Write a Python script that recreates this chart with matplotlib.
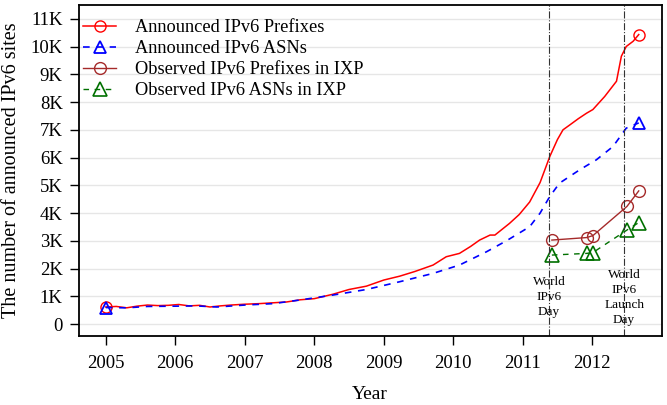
import matplotlib
matplotlib.use('Agg')
import matplotlib.pyplot as plt
from matplotlib.ticker import FuncFormatter

plt.rcParams['font.family'] = ['Liberation Serif', 'DejaVu Serif']
plt.rcParams['font.size'] = 13.5

# Announced IPv6 prefixes
pref_year = [2005.0, 2005.15, 2005.3, 2005.45, 2005.6, 2005.75, 2005.9, 2006.05, 2006.2,
             2006.35, 2006.5, 2006.65, 2006.8, 2007.0, 2007.2, 2007.4, 2007.6, 2007.8,
             2008.0, 2008.27, 2008.5, 2008.75, 2009.0, 2009.23, 2009.45, 2009.71, 2009.9,
             2010.09, 2010.25, 2010.38, 2010.53, 2010.6, 2010.81, 2010.95, 2011.1, 2011.25,
             2011.39, 2011.5, 2011.58, 2011.68, 2011.8, 2011.92, 2012.01, 2012.18, 2012.35,
             2012.42, 2012.49, 2012.59, 2012.67]
pref_vals = [620, 640, 590, 650, 690, 670, 680, 710, 660, 680, 620, 660, 690, 720, 740, 770,
             800, 880, 920, 1080, 1250, 1370, 1590, 1730, 1900, 2130, 2430, 2550, 2800, 3030,
             3210, 3210, 3630, 3950, 4400, 5100, 6040, 6650, 7000, 7180, 7400, 7600, 7730,
             8200, 8750, 9650, 10000, 10190, 10430]

# Announced IPv6 ASNs
asn_year = [2005.0, 2005.3, 2005.6, 2006.0, 2006.3, 2006.6, 2007.0, 2007.4, 2007.79, 2008.27,
            2008.75, 2009.23, 2009.71, 2010.09, 2010.48, 2010.77, 2011.1, 2011.25, 2011.39,
            2011.53, 2011.82, 2012.06, 2012.3, 2012.49, 2012.67]
asn_vals = [600, 590, 640, 650, 660, 620, 690, 740, 870, 1050, 1250, 1530, 1830, 2130, 2610,
            3010, 3510, 4000, 4600, 5080, 5560, 5920, 6400, 7060, 7250]

# Observed in IXP
obs_year = [2011.42, 2011.92, 2012.01, 2012.5, 2012.67]
obs_pref = [3030, 3120, 3190, 4240, 4800]
obs_asn = [2490, 2550, 2580, 3390, 3660]

events = [2011.38, 2012.46]
event_text = ['World\nIPv6\nDay', 'World\nIPv6\nLaunch\nDay']

fig, ax = plt.subplots(figsize=(6.67, 4.05), dpi=100)
fig.subplots_adjust(left=0.118, right=0.992, top=0.988, bottom=0.17)

last = len(pref_year) - 1
ax.plot(pref_year, pref_vals, color='red', lw=1.1, marker='o', mfc='none', ms=8,
        markevery=[0, last], label='Announced IPv6 Prefixes')
ax.plot(asn_year, asn_vals, color='blue', lw=1.2, ls=(0, (4, 4)), marker='^', mfc='none',
        ms=8.5, mew=1.3, markevery=[0, len(asn_year) - 1], label='Announced IPv6 ASNs')
ax.plot(obs_year, obs_pref, color='#a52a2a', lw=1.0, marker='o', mfc='none', ms=8.5,
        label='Observed IPv6 Prefixes in IXP')
ax.plot(obs_year, obs_asn, color='#007000', lw=1.0, ls=(0, (4, 4)), marker='^', mfc='none',
        ms=9.5, mew=1.2, label='Observed IPv6 ASNs in IXP')

for x, t in zip(events, event_text):
    ax.axvline(x, color='#333333', lw=0.8, ls='-.')
    ax.text(x, 970, t, ha='center', va='center', fontsize=9.5, linespacing=1.35)

ax.set_xlim(2004.61, 2013.0)
ax.set_ylim(-430, 11500)
ax.set_xticks(range(2005, 2013))
ax.set_yticks(range(0, 11001, 1000))
ax.yaxis.set_major_formatter(FuncFormatter(lambda v, p: '0' if v == 0 else '%dK' % (v / 1000)))
ax.grid(axis='y', color='#e6e6e6', lw=1)
ax.set_axisbelow(True)
ax.tick_params(direction='out', length=6.5, width=1, pad=5, labelsize=13.5)
ax.tick_params(axis='x', pad=7)
for s in ax.spines.values():
    s.set_linewidth(1.3)

ax.set_xlabel('Year', fontsize=14, labelpad=10)
ax.set_ylabel('The number of announced IPv6 sites', fontsize=14.5, labelpad=7)

ax.legend(loc='upper left', bbox_to_anchor=(0.0, 0.97), frameon=False, fontsize=13.2,
          handlelength=1.8, handletextpad=1.0, labelspacing=0.22, borderpad=0.15,
          borderaxespad=0.1)

fig.savefig('out.png', dpi=100)
